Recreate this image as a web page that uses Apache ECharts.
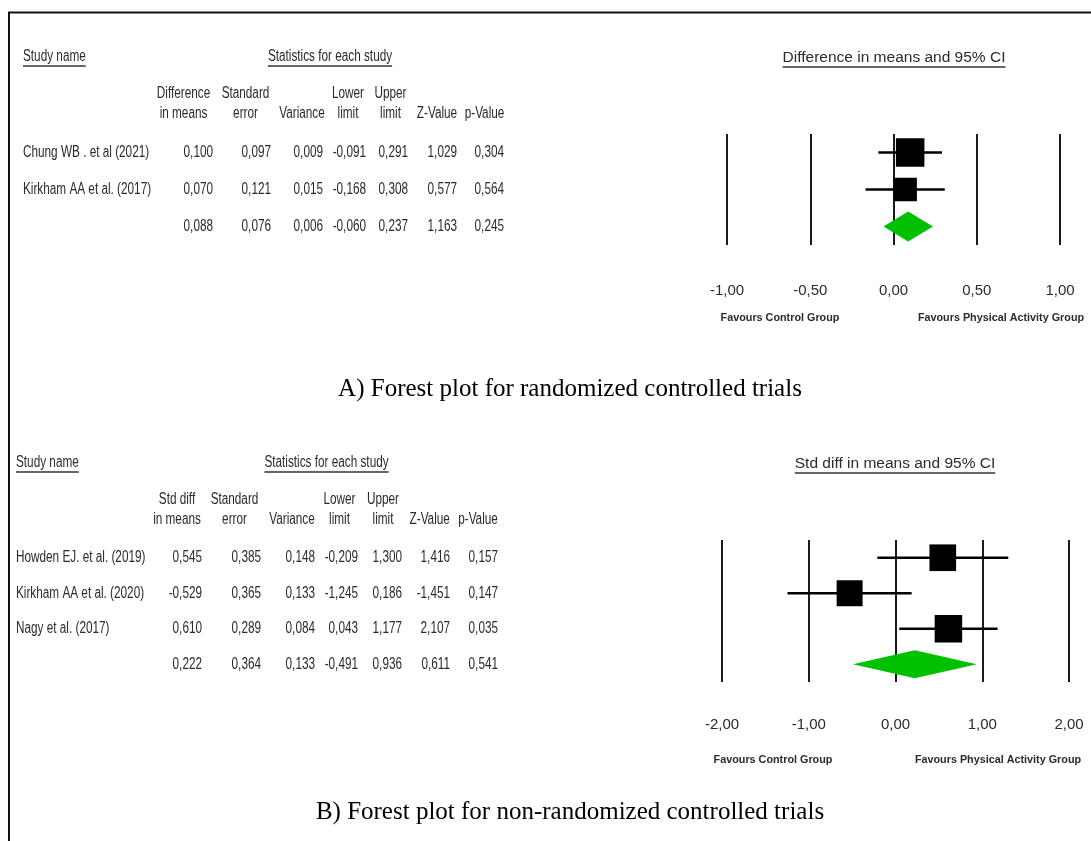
<!DOCTYPE html>
<html>
<head>
<meta charset="utf-8">
<script src="https://cdn.jsdelivr.net/npm/echarts@6/dist/echarts.min.js"></script>
<style>html,body{margin:0;padding:0;background:#fff}#c{width:1091px;height:841px}</style>
</head>
<body>
<div id="c"></div>
<script>
// ---------- DATA ----------
// A) randomized controlled trials
const rctStudies = ['Chung WB . et al (2021)', 'Kirkham AA et al. (2017)', ''];
const rctDiff  = [0.100, 0.070, 0.088];
const rctSE    = [0.097, 0.121, 0.076];
const rctVar   = [0.009, 0.015, 0.006];
const rctLower = [-0.091, -0.168, -0.060];
const rctUpper = [0.291, 0.308, 0.237];
const rctZ     = [1.029, 0.577, 1.163];
const rctP     = [0.304, 0.564, 0.245];
const rctWeight = [59.5, 40.5];           // relative weight (%) of each study
const rctTicks = [-1.00, -0.50, 0.00, 0.50, 1.00];
const rctHeaders = [['Difference','in means'],['Standard','error'],['','Variance'],['Lower','limit'],['Upper','limit'],['','Z-Value'],['','p-Value']];

// B) non-randomized controlled trials
const nrStudies = ['Howden EJ. et al. (2019)', 'Kirkham AA et al. (2020)', 'Nagy et al. (2017)', ''];
const nrSMD   = [0.545, -0.529, 0.610, 0.222];
const nrSE    = [0.385, 0.365, 0.289, 0.364];
const nrVar   = [0.148, 0.133, 0.084, 0.133];
const nrLower = [-0.209, -1.245, 0.043, -0.491];
const nrUpper = [1.300, 0.186, 1.177, 0.936];
const nrZ     = [1.416, -1.451, 2.107, 0.611];
const nrP     = [0.157, 0.147, 0.035, 0.541];
const nrWeight = [33.2, 31.5, 35.3];
const nrTicks = [-2.00, -1.00, 0.00, 1.00, 2.00];
const nrHeaders = [['Std diff','in means'],['Standard','error'],['','Variance'],['Lower','limit'],['Upper','limit'],['','Z-Value'],['','p-Value']];

// ---------- LAYOUT ----------
const SANS = '"Liberation Sans",Arial,sans-serif';
const SERIF = '"Liberation Serif","Times New Roman",serif';
const TXT = '#2b2b2b';
const tableFont = '16px ' + SANS;
const NARROW_SCALE = 0.735;     // condensed look of the table font

const L = {
  top: { gridTop: 134, gridH: 111, plotLeft: 727, plotW: 333,
         colX: [23, 213, 271, 323, 366, 408, 457, 504],
         hdrX: [183.5, 245.5, 302, 348, 390.5, 437, 484.5], hdrY: [94, 114],
         titleY: 57, studyX: 23, statX: 330, plotTitleX: 894, labelMargin: 38,
         favY: 318, favL: 780, favR: 1001, maxBox: 28.5, diamondH: 30, capY: 389 },
  bot: { gridTop: 540, gridH: 142, plotLeft: 722, plotW: 347,
         colX: [16, 202, 261, 315, 358, 402, 450, 498],
         hdrX: [177, 234.5, 292, 339.5, 383, 429.7, 478], hdrY: [500, 520],
         titleY: 463, studyX: 16, statX: 326.5, plotTitleX: 895, labelMargin: 35,
         favY: 760, favL: 773, favR: 998, maxBox: 27.5, diamondH: 28, capY: 812 }
};

const fmt3 = v => v.toFixed(3).replace('.', ',');
const fmt2 = v => v.toFixed(2).replace('.', ',');

const measure = (() => {
  const ctx = document.createElement('canvas').getContext('2d');
  return (text, font) => { ctx.font = font; return ctx.measureText(text).width; };
})();

function narrowText(text, x, y, align) {
  return { type: 'text', x, y, scaleX: NARROW_SCALE, scaleY: 1,
    style: { text, x: 0, y: 0, font: tableFont, fill: TXT, align, verticalAlign: 'middle' } };
}

function tableRows(names, cols) {
  return names.map((n, r) => [n].concat(cols.map(c => fmt3(c[r]))));
}
const rctTable = tableRows(rctStudies, [rctDiff, rctSE, rctVar, rctLower, rctUpper, rctZ, rctP]);
const nrTable  = tableRows(nrStudies,  [nrSMD, nrSE, nrVar, nrLower, nrUpper, nrZ, nrP]);

function tableSeries(table, lay, xi) {
  const data = [];
  table.forEach((row, r) => row.forEach((cell, c) => data.push([c, r])));
  return {
    type: 'custom', xAxisIndex: xi, yAxisIndex: xi, silent: true, data,
    renderItem: (params, api) => {
      const c = api.value(0), r = api.value(1);
      const y = api.coord([0, r])[1];
      return narrowText(table[r][c], lay.colX[c], y, c === 0 ? 'left' : 'right');
    }
  };
}
function whiskerSeries(lo, hi, nStudies, xi) {
  const data = [];
  for (let r = 0; r < nStudies; r++) data.push([lo[r], hi[r], r]);
  return {
    type: 'custom', xAxisIndex: xi, yAxisIndex: xi, silent: true, data, z: 3,
    renderItem: (params, api) => {
      const a = api.coord([api.value(0), api.value(2)]);
      const b = api.coord([api.value(1), api.value(2)]);
      return { type: 'line', shape: { x1: a[0], y1: a[1], x2: b[0], y2: b[1] },
        style: { stroke: '#000', lineWidth: 2.6 } };
    }
  };
}
function boxSeries(est, weights, lay, xi) {
  const wmax = Math.max.apply(null, weights);
  return {
    type: 'scatter', xAxisIndex: xi, yAxisIndex: xi, silent: true, z: 4,
    symbol: 'rect',
    data: weights.map((w, r) => ({ value: [est[r], r], symbolSize: lay.maxBox * Math.sqrt(w / wmax) })),
    itemStyle: { color: '#000', opacity: 1 }
  };
}
function diamondSeries(est, lo, hi, r, lay, xi) {
  return {
    type: 'custom', xAxisIndex: xi, yAxisIndex: xi, silent: true, z: 4,
    data: [[est, lo, hi, r]],
    renderItem: (params, api) => {
      const c = api.coord([api.value(0), api.value(3)]);
      const a = api.coord([api.value(1), api.value(3)]);
      const b = api.coord([api.value(2), api.value(3)]);
      const h = lay.diamondH / 2;
      return { type: 'polygon', shape: { points: [[a[0], c[1]], [c[0], c[1] - h], [b[0], c[1]], [c[0], c[1] + h]] },
        style: { fill: '#00c000' } };
    }
  };
}

function underline(x0, w, y) {
  return { type: 'line', shape: { x1: x0, y1: y + 9, x2: x0 + w, y2: y + 9 }, style: { stroke: '#333', lineWidth: 1.4 } };
}
function panelGraphics(lay, headers, plotTitle, caption) {
  const g = [];
  // "Study name"
  const w1 = measure('Study name', tableFont) * NARROW_SCALE;
  g.push(narrowText('Study name', lay.studyX, lay.titleY, 'left'), underline(lay.studyX, w1, lay.titleY));
  // "Statistics for each study"
  const w2 = measure('Statistics for each study', tableFont) * NARROW_SCALE;
  g.push(narrowText('Statistics for each study', lay.statX, lay.titleY, 'center'), underline(lay.statX - w2 / 2, w2, lay.titleY));
  // plot title
  const pf = '15.5px ' + SANS;
  const w3 = measure(plotTitle, pf);
  g.push({ type: 'text', style: { text: plotTitle, x: lay.plotTitleX, y: lay.titleY + 1, font: pf, fill: TXT, align: 'center', verticalAlign: 'middle' } },
         underline(lay.plotTitleX - w3 / 2, w3, lay.titleY + 1));
  headers.forEach((h, i) => {
    h.forEach((line, j) => { if (line) g.push(narrowText(line, lay.hdrX[i], lay.hdrY[j], 'center')); });
  });
  g.push({ type: 'text', style: { text: 'Favours Control Group', x: lay.favL, y: lay.favY, font: 'bold 10.8px ' + SANS, fill: TXT, align: 'center', verticalAlign: 'middle' } });
  g.push({ type: 'text', style: { text: 'Favours Physical Activity Group', x: lay.favR, y: lay.favY, font: 'bold 10.8px ' + SANS, fill: TXT, align: 'center', verticalAlign: 'middle' } });
  g.push({ type: 'text', style: { text: caption, x: 570, y: lay.capY, font: '25px ' + SERIF, fill: '#000', align: 'center', verticalAlign: 'middle' } });
  return g;
}

function plotXAxis(ticks, lay, gi) {
  return {
    type: 'value', gridIndex: gi, min: ticks[0], max: ticks[ticks.length - 1], interval: ticks[1] - ticks[0],
    axisLine: { show: false }, axisTick: { show: false },
    splitLine: { show: true, lineStyle: { color: '#1a1a1a', width: 2 } },
    axisLabel: { margin: lay.labelMargin, formatter: v => fmt2(v), color: TXT, fontSize: 15, fontFamily: SANS }
  };
}
function tableXAxis(gi) { return { type: 'value', gridIndex: gi, min: 0, max: 1091, show: false }; }
function rowAxis(n, gi) { return { type: 'category', gridIndex: gi, inverse: true, data: Array.from({ length: n }, (_, i) => i), show: false }; }

const chart = echarts.init(document.getElementById('c'), null, { renderer: 'canvas' });
chart.setOption({
  animation: false,
  backgroundColor: '#fff',
  grid: [
    { left: 0, width: 1091, top: L.top.gridTop, height: L.top.gridH },
    { left: L.top.plotLeft, width: L.top.plotW, top: L.top.gridTop, height: L.top.gridH },
    { left: 0, width: 1091, top: L.bot.gridTop, height: L.bot.gridH },
    { left: L.bot.plotLeft, width: L.bot.plotW, top: L.bot.gridTop, height: L.bot.gridH }
  ],
  xAxis: [tableXAxis(0), plotXAxis(rctTicks, L.top, 1), tableXAxis(2), plotXAxis(nrTicks, L.bot, 3)],
  yAxis: [rowAxis(rctStudies.length, 0), rowAxis(rctStudies.length, 1), rowAxis(nrStudies.length, 2), rowAxis(nrStudies.length, 3)],
  series: [
    tableSeries(rctTable, L.top, 0),
    whiskerSeries(rctLower, rctUpper, rctWeight.length, 1),
    boxSeries(rctDiff, rctWeight, L.top, 1),
    diamondSeries(rctDiff[2], rctLower[2], rctUpper[2], 2, L.top, 1),
    tableSeries(nrTable, L.bot, 2),
    whiskerSeries(nrLower, nrUpper, nrWeight.length, 3),
    boxSeries(nrSMD, nrWeight, L.bot, 3),
    diamondSeries(nrSMD[3], nrLower[3], nrUpper[3], 3, L.bot, 3)
  ],
  graphic: [
    { type: 'polyline', shape: { points: [[9, 841], [9, 12.5], [1091, 12.5]] }, style: { stroke: '#111', lineWidth: 2, fill: null } }
  ].concat(
    panelGraphics(L.top, rctHeaders, 'Difference in means and 95% CI', 'A) Forest plot for randomized controlled trials'),
    panelGraphics(L.bot, nrHeaders, 'Std diff in means and 95% CI', 'B) Forest plot for non-randomized controlled trials')
  )
});
</script>
</body>
</html>
